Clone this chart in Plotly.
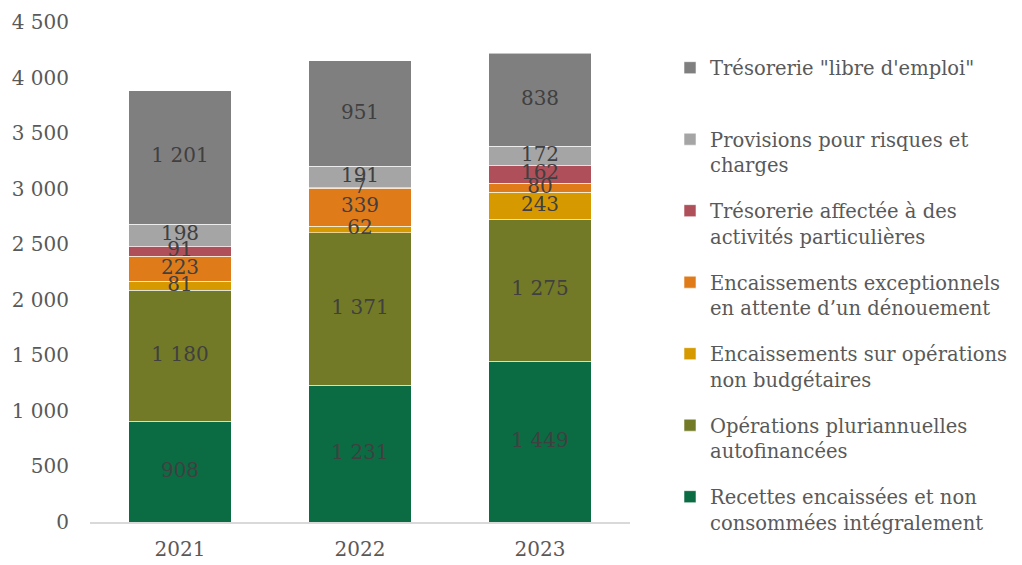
import numpy as np
import plotly.graph_objects as go

years = ["2021", "2022", "2023"]
recettes = [908, 1231, 1449]
pluriannuelles = [1180, 1371, 1275]
non_budgetaires = [81, 62, 243]
exceptionnels = [223, 339, 80]
affectee = [91, 7, 162]
provisions = [198, 191, 172]
libre = [1201, 951, 838]

series = [
    ("Recettes encaissées et non<br>consommées intégralement", recettes, "#0B6B43"),
    ("Opérations pluriannuelles<br>autofinancées", pluriannuelles, "#727A27"),
    ("Encaissements sur opérations<br>non budgétaires", non_budgetaires, "#D69A00"),
    ("Encaissements exceptionnels<br>en attente d’un dénouement", exceptionnels, "#E07B1A"),
    ("Trésorerie affectée à des<br>activités particulières", affectee, "#AF4F5A"),
    ("Provisions pour risques et<br>charges", provisions, "#A5A5A5"),
    ("Trésorerie \"libre d'emploi\"<br> ", libre, "#7F7F7F"),
]

FONT = "DejaVu Serif"
FS = 20
LFS = 19.5
fig = go.Figure()
for i, (name, vals, col) in enumerate(series):
    fig.add_trace(go.Bar(
        x=years, y=vals, name=name, legendgroup=f"g{i}", legendrank=100 - i,
        marker=dict(color=col, line=dict(color="rgba(255,255,255,0.55)", width=1)),
        hoverinfo="skip",
    ))

# data labels drawn above all bars, centred in each segment
base = np.zeros(len(years))
for i, (name, vals, col) in enumerate(series):
    v = np.array(vals, dtype=float)
    mid = base + v / 2
    base = base + v
    fig.add_trace(go.Scatter(
        x=years, y=mid, mode="text", text=[f"{int(a):,}".replace(",", " ") for a in vals],
        textposition="middle center", showlegend=False, hoverinfo="skip",
        textfont=dict(family=FONT, size=FS, color="#404040"), cliponaxis=False,
    ))

# the page body adds an 8px margin, so the figure is 8px smaller on each side
fig.update_layout(
    width=1014, height=557,
    barmode="stack", bargap=0.43,
    separators=", ",
    plot_bgcolor="white", paper_bgcolor="white",
    margin=dict(l=82, r=392, t=14, b=43, autoexpand=False),
    font=dict(family=FONT, size=FS, color="#595959"),
    showlegend=True,
    legend=dict(
        x=1.0741, xanchor="left", y=0.947, yanchor="top",
        traceorder="grouped", tracegroupgap=17.8, valign="top",
        font=dict(family=FONT, size=LFS, color="#595959"),
        bgcolor="rgba(0,0,0,0)",
    ),
    xaxis=dict(showline=True, linecolor="#D9D9D9", linewidth=1.5, showgrid=False,
               ticks="", ticklabelstandoff=8, automargin=False),
    yaxis=dict(range=[0, 4500], dtick=500, tickformat=",", showgrid=False,
               zeroline=False, showline=False, ticks="", ticklabelstandoff=20,
               automargin=False),
)

fig.write_html("out.html")
